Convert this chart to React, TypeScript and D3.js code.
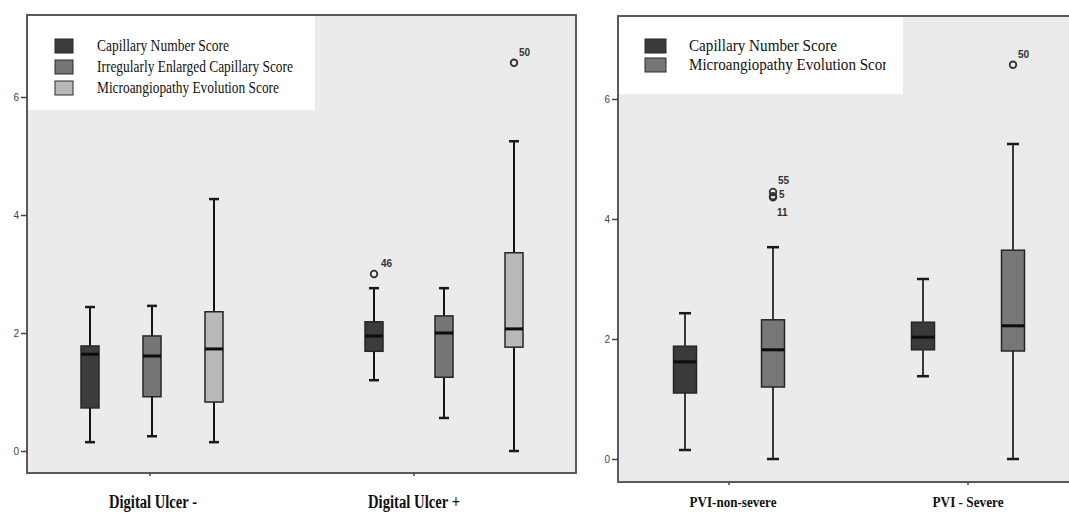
import React, { useEffect, useRef } from "react";
import * as d3 from "d3";

// ---- data ----
// every box: [lower whisker, q1, median, q3, upper whisker]
const ulcerCategories = ["Digital Ulcer -", "Digital Ulcer +"];
const ulcerSeries = [
  "Capillary Number Score",
  "Irregularly Enlarged Capillary Score",
  "Microangiopathy Evolution Score",
];
const ulcerCapillaryNumber = [
  [0.15, 0.73, 1.64, 1.78, 2.44],
  [1.2, 1.69, 1.95, 2.19, 2.76],
];
const ulcerEnlargedCapillary = [
  [0.25, 0.92, 1.61, 1.95, 2.46],
  [0.56, 1.25, 2.0, 2.29, 2.76],
];
const ulcerEvolution = [
  [0.15, 0.83, 1.73, 2.36, 4.27],
  [0.0, 1.76, 2.07, 3.36, 5.25],
];
const ulcerOutliers = [
  { category: "Digital Ulcer +", series: "Capillary Number Score", value: 3.0, label: "46" },
  { category: "Digital Ulcer +", series: "Microangiopathy Evolution Score", value: 6.58, label: "50" },
];

const pviCategories = ["PVI-non-severe", "PVI - Severe"];
const pviSeries = ["Capillary Number Score", "Microangiopathy Evolution Score"];
const pviCapillaryNumber = [
  [0.15, 1.1, 1.62, 1.88, 2.43],
  [1.38, 1.82, 2.03, 2.28, 3.0],
];
const pviEvolution = [
  [0.0, 1.2, 1.82, 2.32, 3.53],
  [0.0, 1.8, 2.22, 3.48, 5.25],
];
const pviOutliers = [
  { category: "PVI-non-severe", series: "Microangiopathy Evolution Score", value: 4.45, label: "55" },
  { category: "PVI-non-severe", series: "Microangiopathy Evolution Score", value: 4.38, label: "5" },
  { category: "PVI-non-severe", series: "Microangiopathy Evolution Score", value: 4.36, label: "11" },
  { category: "PVI - Severe", series: "Microangiopathy Evolution Score", value: 6.57, label: "50" },
];

const yTicks = [0, 2, 4, 6];

const App: React.FC = () => {
  const ref = useRef<SVGSVGElement>(null);

  useEffect(() => {
    const root = d3.select(ref.current);
    root.selectAll("*").remove();

    const drawPanel = (cfg: any) => {
      const g = root.append("g");
      const [fx0, fy0, fx1, fy1] = cfg.frame;

      const y = d3.scaleLinear().domain([0, 6]).range(cfg.yRange);
      const xCat = d3.scalePoint().domain(cfg.categories).range(cfg.catRange);

      // plot background + frame
      g.append("rect")
        .attr("x", fx0)
        .attr("y", fy0)
        .attr("width", fx1 - fx0)
        .attr("height", fy1 - fy0)
        .attr("fill", "#ebebeb")
        .attr("stroke", "#5a5a5a")
        .attr("stroke-width", 2);

      // legend (white patch in the top-left corner)
      const lg = cfg.legend;
      g.append("rect")
        .attr("x", fx0 + 1)
        .attr("y", fy0 + 1)
        .attr("width", lg.w)
        .attr("height", lg.h)
        .attr("fill", "#ffffff");

      const clipId = "clip-" + cfg.id;
      g.append("clipPath")
        .attr("id", clipId)
        .append("rect")
        .attr("x", fx0)
        .attr("y", fy0)
        .attr("width", lg.clipW)
        .attr("height", lg.h);

      cfg.series.forEach((s: string, i: number) => {
        const cy = lg.y0 + i * lg.gap;
        g.append("rect")
          .attr("x", lg.swatchX)
          .attr("y", cy - lg.swatchH / 2)
          .attr("width", lg.swatchW)
          .attr("height", lg.swatchH)
          .attr("fill", cfg.colors[i])
          .attr("stroke", "#2a2a2a")
          .attr("stroke-width", 1);
        g.append("text")
          .attr("x", lg.textX)
          .attr("y", cy + lg.fontSize * 0.3)
          .attr("clip-path", `url(#${clipId})`)
          .attr("font-family", "Liberation Serif, serif")
          .attr("font-size", lg.fontSize)
          .attr("fill", "#111")
          .attr("textLength", lg.widths[i])
          .attr("lengthAdjust", "spacingAndGlyphs")
          .text(s);
      });

      // y axis ticks
      const yAxis = g
        .append("g")
        .attr("transform", `translate(${fx0},0)`)
        .call(d3.axisLeft(y).tickValues(yTicks).tickSize(6).tickPadding(2).tickFormat(d3.format("d")));
      yAxis.select(".domain").remove();
      yAxis.selectAll("line").attr("stroke", "#444").attr("stroke-width", 1.5);
      yAxis
        .selectAll("text")
        .attr("font-family", "Liberation Sans, sans-serif")
        .attr("font-size", 10)
        .attr("fill", "#444");

      // x axis ticks + category labels
      cfg.categories.forEach((c: string, ci: number) => {
        const cx = xCat(c) as number;
        g.append("line")
          .attr("x1", cx)
          .attr("x2", cx)
          .attr("y1", fy1)
          .attr("y2", fy1 + 3)
          .attr("stroke", "#444")
          .attr("stroke-width", 1.5);
        g.append("text")
          .attr("x", cx + cfg.labelShift[ci])
          .attr("y", cfg.labelY)
          .attr("text-anchor", "middle")
          .attr("font-family", "Liberation Serif, serif")
          .attr("font-weight", "bold")
          .attr("font-size", cfg.labelSize)
          .attr("fill", "#111")
          .attr("textLength", cfg.labelWidths[ci])
          .attr("lengthAdjust", "spacingAndGlyphs")
          .text(c);
      });

      // x position of each box inside its category cluster
      const boxX = (c: string, s: string) => {
        const ci = cfg.categories.indexOf(c);
        const center = (xCat(c) as number) + cfg.clusterShift[ci];
        const half = cfg.clusterHalf[ci];
        const inner = d3.scalePoint().domain(cfg.series).range([center - half, center + half]);
        return inner(s) as number;
      };

      const bw = cfg.boxWidth;
      const cw = cfg.capWidth;

      cfg.series.forEach((s: string, si: number) => {
        cfg.values[si].forEach((v: number[], ci: number) => {
          const c = cfg.categories[ci];
          const cx = boxX(c, s);
          const [lo, q1, med, q3, hi] = v;
          const bg = g.append("g");

          bg.append("line")
            .attr("x1", cx)
            .attr("x2", cx)
            .attr("y1", y(lo))
            .attr("y2", y(hi))
            .attr("stroke", cfg.whiskerColor)
            .attr("stroke-width", 2);
          [lo, hi].forEach((w) => {
            bg.append("line")
              .attr("x1", cx - cw / 2)
              .attr("x2", cx + cw / 2)
              .attr("y1", y(w))
              .attr("y2", y(w))
              .attr("stroke", "#1a1a1a")
              .attr("stroke-width", 2.5);
          });
          bg.append("rect")
            .attr("x", cx - bw / 2)
            .attr("y", y(q3))
            .attr("width", bw)
            .attr("height", y(q1) - y(q3))
            .attr("fill", cfg.colors[si])
            .attr("stroke", "#262626")
            .attr("stroke-width", 1.5);
          bg.append("line")
            .attr("x1", cx - bw / 2)
            .attr("x2", cx + bw / 2)
            .attr("y1", y(med))
            .attr("y2", y(med))
            .attr("stroke", "#0d0d0d")
            .attr("stroke-width", 3);
        });
      });

      // outliers
      cfg.outliers.forEach((o: any) => {
        const cx = boxX(o.category, o.series);
        const cy = y(o.value);
        const off = cfg.outlierLabelOffsets[o.label] || [5, -7];
        g.append("circle")
          .attr("cx", cx)
          .attr("cy", cy)
          .attr("r", 3.3)
          .attr("fill", "none")
          .attr("stroke", "#333")
          .attr("stroke-width", 1.8);
        g.append("text")
          .attr("x", cx + off[0])
          .attr("y", cy + off[1])
          .attr("font-family", "Liberation Sans, sans-serif")
          .attr("font-weight", "bold")
          .attr("font-size", 10)
          .attr("fill", "#333")
          .text(o.label);
      });
    };

    drawPanel({
      id: "ulcer",
      frame: [27, 15, 576, 473],
      yRange: [451, 97],
      categories: ulcerCategories,
      series: ulcerSeries,
      values: [ulcerCapillaryNumber, ulcerEnlargedCapillary, ulcerEvolution],
      outliers: ulcerOutliers,
      outlierLabelOffsets: { "46": [7, -7], "50": [5, -7] },
      colors: ["#3c3c3c", "#757575", "#b9b9b9"],
      whiskerColor: "#141414",
      catRange: [150, 414],
      clusterShift: [2, 30],
      clusterHalf: [62, 70],
      boxWidth: 18,
      capWidth: 10,
      labelShift: [3, 0],
      labelY: 508,
      labelSize: 18,
      labelWidths: [88, 92],
      legend: {
        w: 287,
        h: 94,
        clipW: 300,
        swatchX: 55,
        swatchW: 18,
        swatchH: 14,
        y0: 46,
        gap: 21,
        textX: 97,
        fontSize: 16,
        widths: [132, 196, 182],
      },
    });

    drawPanel({
      id: "pvi",
      frame: [618, 16, 1080, 482],
      yRange: [459, 99],
      categories: pviCategories,
      series: pviSeries,
      values: [pviCapillaryNumber, pviEvolution],
      outliers: pviOutliers,
      outlierLabelOffsets: { "55": [5, -8], "5": [6, 2], "11": [4, 19], "50": [5, -7] },
      colors: ["#3a3a3a", "#777777"],
      whiskerColor: "#3a3a3a",
      catRange: [729, 968],
      clusterShift: [0, 0],
      clusterHalf: [44, 45],
      boxWidth: 23,
      capWidth: 12,
      labelShift: [4, 0],
      labelY: 507,
      labelSize: 15,
      labelWidths: [87, 71],
      legend: {
        w: 284,
        h: 77,
        clipW: 268,
        swatchX: 645,
        swatchW: 21,
        swatchH: 14,
        y0: 46,
        gap: 19,
        textX: 689,
        fontSize: 17,
        widths: [148, 205],
      },
    });
  }, []);

  return (
    <svg
      ref={ref}
      width={1069}
      height={513}
      style={{ position: "absolute", left: 0, top: 0, background: "#ffffff" }}
    />
  );
};

export default App;
